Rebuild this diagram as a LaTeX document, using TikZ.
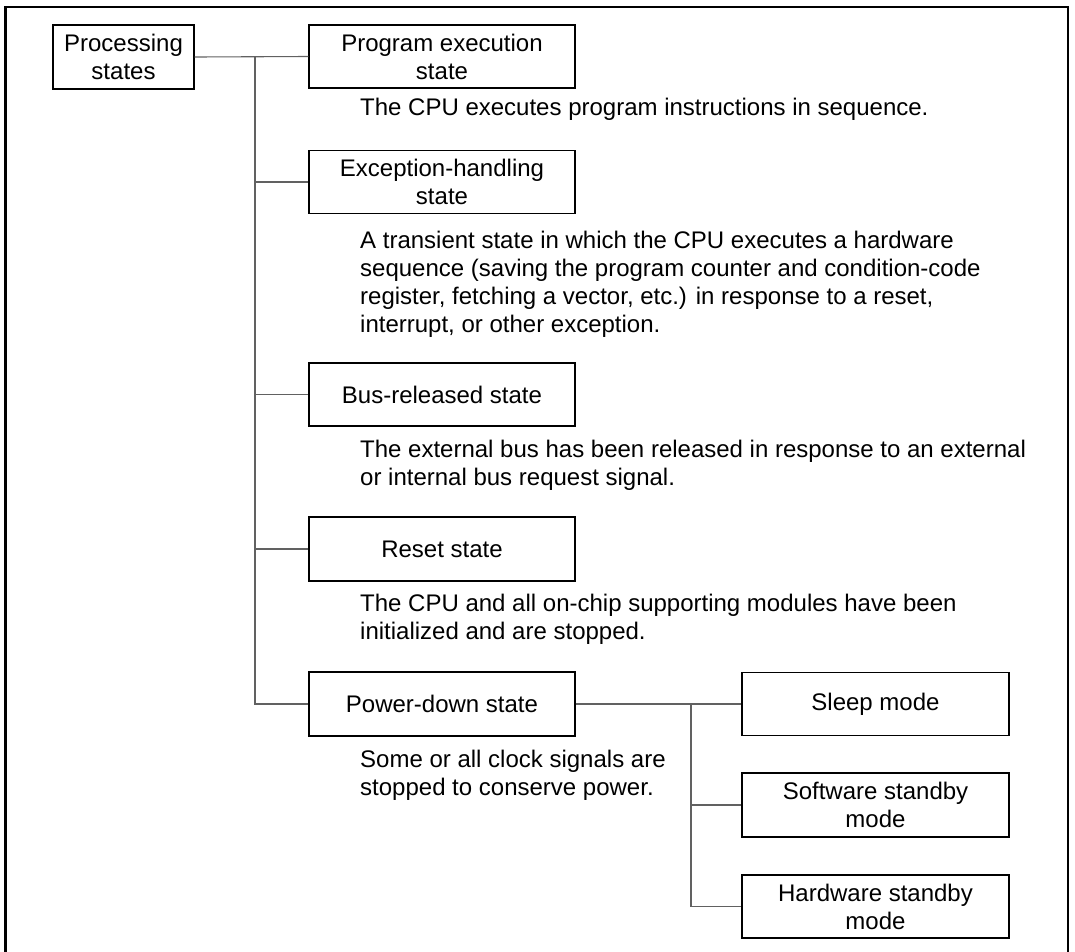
\documentclass[tikz,border=0pt]{standalone}
\usepackage{fontspec}
\setmainfont{Liberation Sans}
\begin{document}
\begin{tikzpicture}[x=1pt,y=-1pt,
  box/.style={draw=black,line width=1.3pt,minimum width=266pt,minimum height=63pt,inner sep=0pt,align=center,font=\fontsize{24}{28}\selectfont},
  para/.style={anchor=north west,inner sep=0pt,align=left,font=\fontsize{24}{28}\selectfont},
  conn/.style={draw=black!62,line width=1.1pt}]
\useasboundingbox (0,0) rectangle (1075,951);
\clip (0,0) rectangle (1075,951);
\draw[line width=2.4pt] (5.5,7) rectangle (1068,970);
% boxes
\node[box,minimum width=141pt,minimum height=64pt] (proc) at (123.5,57) {Processing\\states};
\node[box] (prog) at (442,56.5) {Program execution\\state};
\node[box] (exc) at (442,182) {Exception-handling\\state};
\node[box] (bus) at (442,394.5) {Bus-released state};
\node[box,minimum height=64pt] (rst) at (442,549) {Reset state};
\node[box,minimum height=64pt] (pd) at (442,704) {Power-down state};
\node[box,minimum width=267pt] (slp) at (875.5,704) {Sleep mode};
\node[box,minimum width=267pt,minimum height=64pt] (sw) at (875.5,805) {Software standby\\mode};
\node[box,minimum width=267pt] (hw) at (875.5,906.5) {Hardware standby\\mode};
% descriptions
\node[para] (d1) at (360,98) {The CPU executes program instructions in sequence.};
\node[para] (d2) at (360,231) {A transient state in which the CPU executes a hardware\\sequence (saving the program counter and condition-code\\register, fetching a vector, etc.) in response to a reset,\\interrupt, or other exception.};
\node[para] (d3) at (360,440) {The external bus has been released in response to an external\\or internal bus request signal.};
\node[para] (d4) at (360,594) {The CPU and all on-chip supporting modules have been\\initialized and are stopped.};
\node[para] (d5) at (360,750) {Some or all clock signals are\\stopped to conserve power.};
% connectors
\coordinate (t0) at (255,57);
\coordinate (s0) at (691,704);
\draw[conn] (proc.east) -- (prog.west);
\draw[conn] (t0) |- (pd.west);
\draw[conn] (t0 |- exc.west) -- (exc.west);
\draw[conn] (t0 |- bus.west) -- (bus.west);
\draw[conn] (t0 |- rst.west) -- (rst.west);
\draw[conn] (pd.east) -- (slp.west);
\draw[conn] (s0) |- (hw.west);
\draw[conn] (s0 |- sw.west) -- (sw.west);
\end{tikzpicture}
\end{document}
